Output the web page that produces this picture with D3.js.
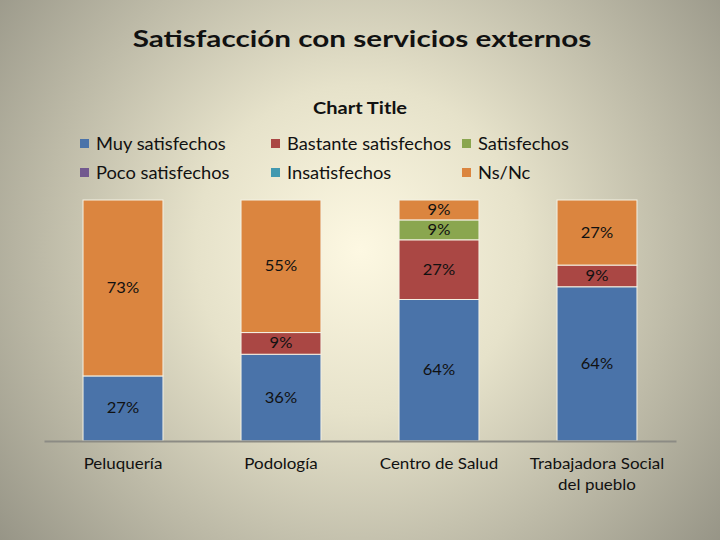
<!DOCTYPE html>
<html><head><meta charset="utf-8">
<script src="https://cdn.jsdelivr.net/npm/d3@7"></script>
<style>html,body{margin:0;padding:0;} svg{display:block;}</style>
</head><body>
<script>
const categories = ["Peluquería", "Podología", "Centro de Salud", "Trabajadora Social|del pueblo"];
const seriesNames = ["Muy satisfechos", "Bastante satisfechos", "Satisfechos", "Poco satisfechos", "Insatisfechos", "Ns/Nc"];
const muySatisfechos = [27, 36, 64, 64];
const bastanteSatisfechos = [0, 9, 27, 9];
const satisfechos = [0, 0, 9, 0];
const pocoSatisfechos = [0, 0, 0, 0];
const insatisfechos = [0, 0, 0, 0];
const nsNc = [73, 55, 9, 27];
const colors = ["#4a73a9", "#aa4744", "#8aa64f", "#72598f", "#4299b0", "#db853f"];

const W = 720, H = 540;
const svg = d3.select("body").append("svg").attr("width", W).attr("height", H);
const defs = svg.append("defs");
const grad = defs.append("radialGradient").attr("id", "bg")
  .attr("gradientUnits", "userSpaceOnUse").attr("cx", 360).attr("cy", 250).attr("r", 470)
  .attr("fx", 360).attr("fy", 250);
grad.append("stop").attr("offset", "0%").attr("stop-color", "#fdf8e2");
grad.append("stop").attr("offset", "35%").attr("stop-color", "#e6e2ca");
grad.append("stop").attr("offset", "100%").attr("stop-color", "#959385");
svg.append("rect").attr("width", W).attr("height", H).attr("fill", "url(#bg)");

const font = "Lato, 'Open Sans', sans-serif";
function stretch(sel, f) {
  sel.each(function () {
    const n = this;
    const kids = n.querySelectorAll("tspan");
    const targets = kids.length ? Array.from(kids) : [n];
    targets.forEach(t => {
      const len = t.getComputedTextLength();
      t.setAttribute("textLength", (len * f).toFixed(1));
      t.setAttribute("lengthAdjust", "spacingAndGlyphs");
    });
  });
}

const title = svg.append("text").attr("x", 362).attr("y", 47).attr("text-anchor", "middle")
  .attr("font-family", font).attr("font-weight", "bold").attr("font-size", 23).attr("fill", "#111")
  .text("Satisfacción con servicios externos");
stretch(title, 1.29);
const sub = svg.append("text").attr("x", 360).attr("y", 114).attr("text-anchor", "middle")
  .attr("font-family", font).attr("font-weight", "bold").attr("font-size", 17).attr("fill", "#111")
  .text("Chart Title");
stretch(sub, 1.18);

// legend
const legendCols = [80, 271, 462];
const legendRows = [144, 173];
seriesNames.forEach((s, i) => {
  const cx = legendCols[i % 3], cy = legendRows[Math.floor(i / 3)];
  svg.append("rect").attr("x", cx).attr("y", cy - 5).attr("width", 9).attr("height", 9).attr("fill", colors[i]);
  const t = svg.append("text").attr("x", cx + 16).attr("y", cy + 6).attr("font-family", font)
    .attr("font-size", 17).attr("fill", "#111").text(s);
  stretch(t, 1.075);
});

const allSeries = [muySatisfechos, bastanteSatisfechos, satisfechos, pocoSatisfechos, insatisfechos, nsNc];
const rows = categories.map((c, j) => {
  const r = { cat: c };
  seriesNames.forEach((s, i) => r[s] = allSeries[i][j]);
  return r;
});
const stack = d3.stack().keys(seriesNames).offset(d3.stackOffsetExpand);
const stacked = stack(rows);

const x = d3.scaleBand().domain(categories).range([44, 676]).paddingInner(0.494).paddingOuter(0.247);
const y = d3.scaleLinear().domain([0, 1]).range([441, 200]);

stacked.forEach((layer, i) => {
  const g = svg.append("g");
  layer.forEach((d, j) => {
    const v = allSeries[i][j];
    if (!v) return;
    g.append("rect").attr("x", x(categories[j])).attr("width", x.bandwidth())
      .attr("y", y(d[1])).attr("height", y(d[0]) - y(d[1]))
      .attr("fill", colors[i]).attr("stroke", "#f4f1e4").attr("stroke-width", 1);
  });
});
stacked.forEach((layer, i) => {
  layer.forEach((d, j) => {
    const v = allSeries[i][j];
    if (!v) return;
    const t = svg.append("text").attr("x", x(categories[j]) + x.bandwidth() / 2)
      .attr("y", (y(d[0]) + y(d[1])) / 2 + 5).attr("text-anchor", "middle")
      .attr("font-family", font).attr("font-size", 15).attr("fill", "#111").text(v + "%");
    stretch(t, 1.1);
  });
});

// axis
const axis = d3.axisBottom(x).tickSize(0).tickFormat("");
const ax = svg.append("g").attr("transform", "translate(0,441)").call(axis);
ax.select(".domain").attr("stroke", "#8c8b84").attr("stroke-width", 2);
categories.forEach(c => {
  const lines = c.split("|");
  const t = svg.append("text").attr("x", x(c) + x.bandwidth() / 2).attr("y", 469)
    .attr("text-anchor", "middle").attr("font-family", font).attr("font-size", 15).attr("fill", "#111");
  lines.forEach((l, k) => t.append("tspan").attr("x", x(c) + x.bandwidth() / 2).attr("dy", k ? 21 : 0).text(l));
  stretch(t, 1.13);
});
</script>
</body></html>
